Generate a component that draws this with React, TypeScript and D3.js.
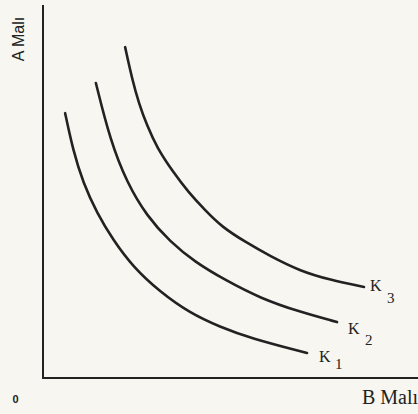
import React from "react";
import * as d3 from "d3";

// Indifference curves (x = B Malı quantity, y = A Malı quantity), units 0–100
const curveNames = ["K1", "K2", "K3"];
const k1: [number, number][] = [
  [5.9, 71.0], [8.0, 61.1], [10.7, 52.3], [14.4, 44.2], [18.7, 37.0], [24.0, 29.8],
  [31.2, 23.1], [39.2, 17.4], [47.2, 13.7], [55.2, 10.7], [70.4, 6.7],
];
const k2: [number, number][] = [
  [14.1, 79.1], [17.9, 63.8], [22.4, 52.3], [27.7, 43.4], [33.9, 36.5], [40.5, 31.1],
  [48.5, 26.3], [57.9, 21.4], [68.5, 17.7], [78.4, 15.0],
];
const k3: [number, number][] = [
  [21.9, 88.7], [23.7, 80.4], [25.6, 73.5], [27.7, 67.8], [30.4, 61.7], [34.7, 55.2],
  [38.7, 49.9], [43.2, 45.0], [47.7, 40.5], [53.9, 36.5], [60.5, 32.7], [68.5, 28.7],
  [76.5, 26.3], [85.6, 24.4],
];
const series = [k1, k2, k3];
const subscripts = ["1", "2", "3"];
const xLabel = "B Malı";
const yLabel = "A Malı";
const originLabel = "0";

export default function App() {
  const W = 418, H = 414;
  const x = d3.scaleLinear().domain([0, 100]).range([43, 418]);
  const y = d3.scaleLinear().domain([0, 100]).range([378, 5]);
  const line = d3
    .line<[number, number]>()
    .x((d) => x(d[0]))
    .y((d) => y(d[1]))
    .curve(d3.curveBasis);

  const labelOffsets = [
    { dx: 12, dy: 9, sx: 16, sy: 7 },
    { dx: 11, dy: 12, sx: 17, sy: 11 },
    { dx: 6, dy: 4, sx: 17, sy: 12 },
  ];

  return (
    <svg
      width={W}
      height={H}
      style={{ position: "fixed", left: 0, top: 0, background: "#f7f6f0" }}
    >
      <rect x={0} y={0} width={W} height={H} fill="#f7f6f0" />
      {/* axes */}
      <line x1={x(0)} y1={y(0)} x2={x(0)} y2={y(100)} stroke="#222" strokeWidth={2} />
      <line x1={x(0) - 1} y1={y(0)} x2={x(100)} y2={y(0)} stroke="#222" strokeWidth={2.2} />
      {series.map((s, i) => (
        <path
          key={curveNames[i]}
          d={line(s) || ""}
          fill="none"
          stroke="#222"
          strokeWidth={2.6}
          strokeLinecap="round"
        />
      ))}
      {series.map((s, i) => {
        const last = s[s.length - 1];
        const o = labelOffsets[i];
        const lx = x(last[0]) + o.dx;
        const ly = y(last[1]) + o.dy;
        return (
          <g key={"lab" + i} fontFamily="Liberation Serif, serif" fill="#222">
            <text x={lx} y={ly} fontSize={16}>K</text>
            <text x={lx + o.sx} y={ly + o.sy} fontSize={15}>{subscripts[i]}</text>
          </g>
        );
      })}
      <text x={362} y={404} fontFamily="Liberation Serif, serif" fontSize={20} fill="#222">
        {xLabel}
      </text>
      <text
        transform="translate(24,39) rotate(-90)"
        textAnchor="middle"
        fontFamily="Liberation Sans, sans-serif"
        fontSize={16}
        fill="#222"
      >
        {yLabel}
      </text>
      <text x={15.5} y={403} textAnchor="middle" fontFamily="Liberation Sans, sans-serif" fontWeight="bold" fontSize={11} fill="#222">
        {originLabel}
      </text>
    </svg>
  );
}
